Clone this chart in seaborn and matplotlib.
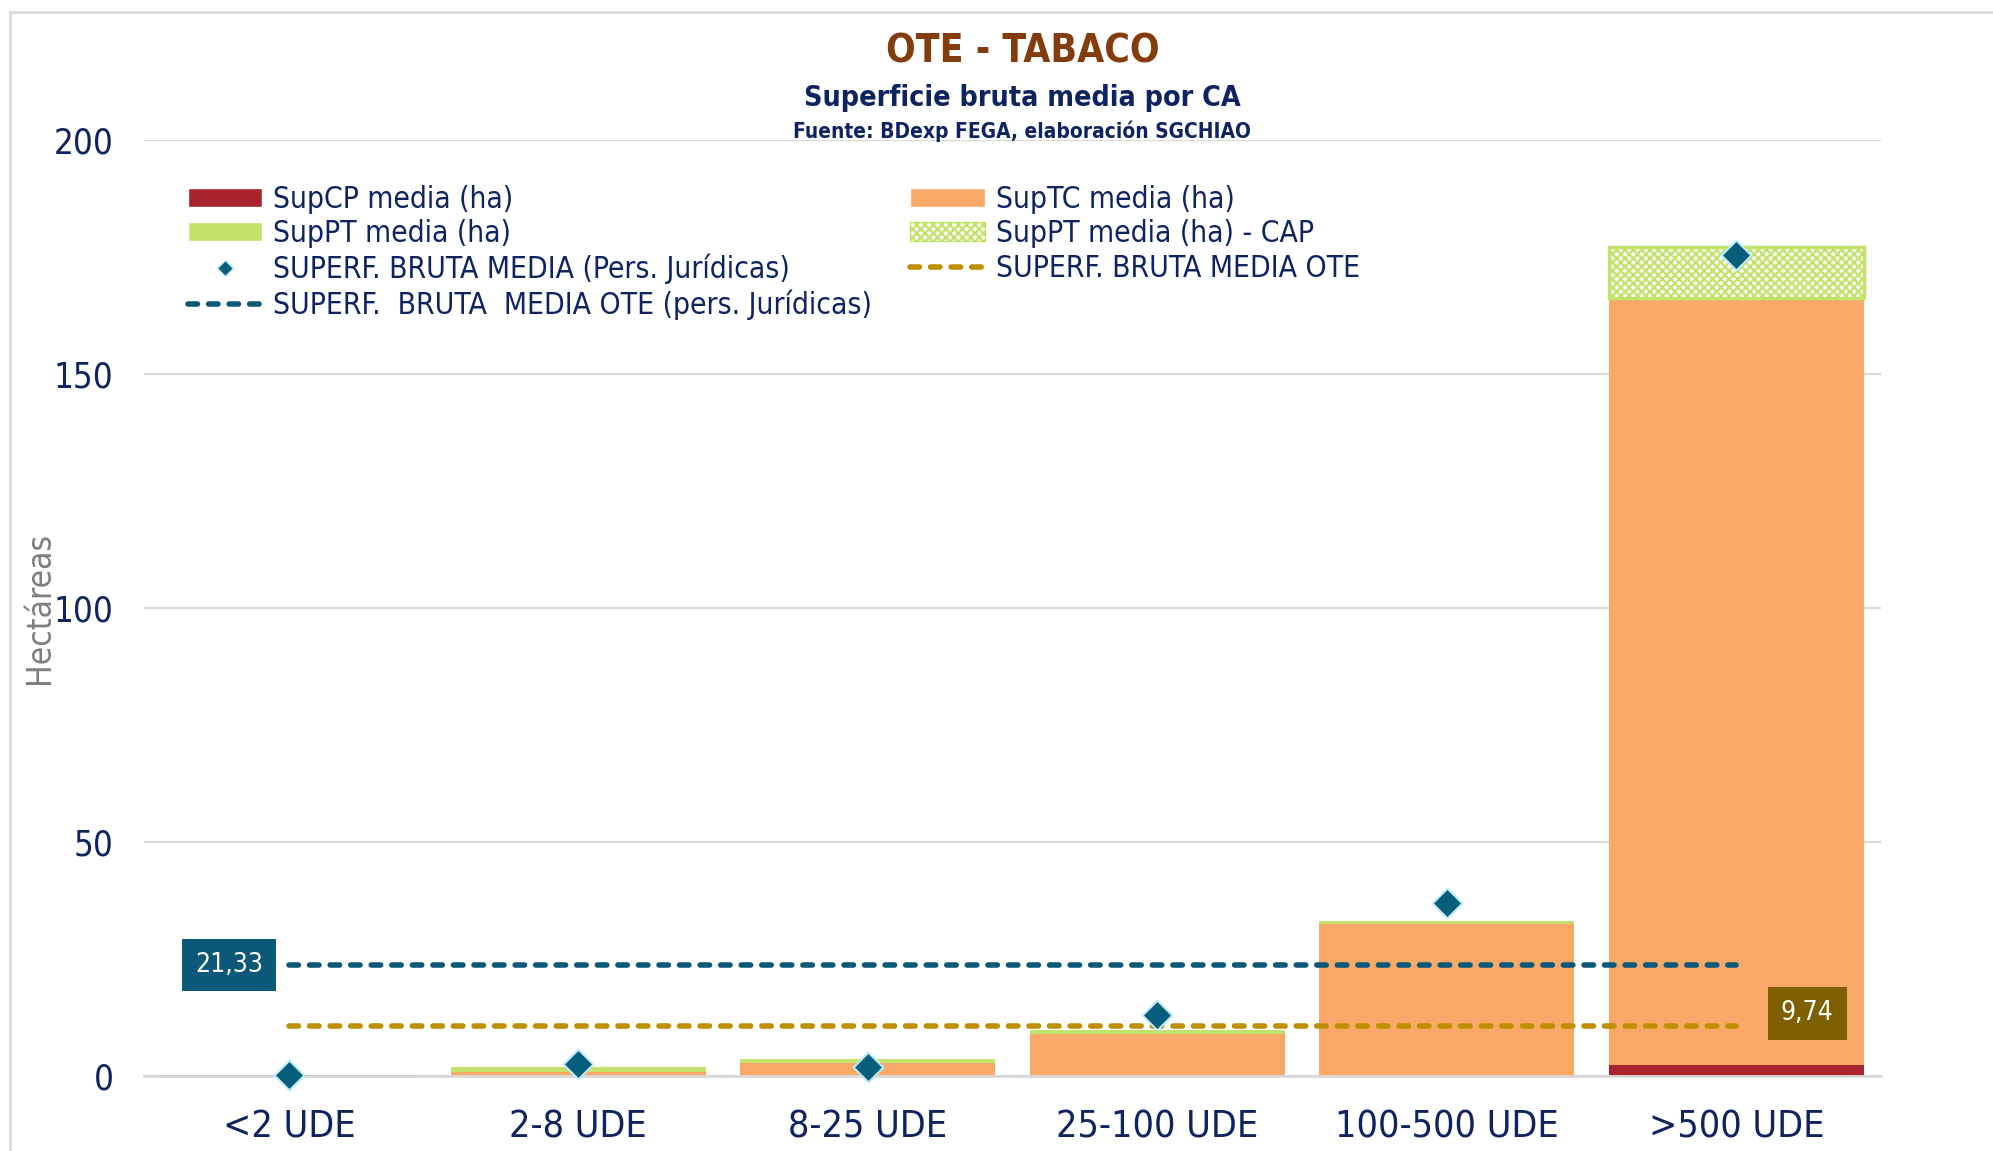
import matplotlib.pyplot as plt
import seaborn as sns
from matplotlib.patches import Patch, Rectangle
from matplotlib.lines import Line2D

# Datos (ha)
categorias = ['<2 UDE', '2-8 UDE', '8-25 UDE', '25-100 UDE', '100-500 UDE', '>500 UDE']
sup_cp = [0.15, 0.0, 0.0, 0.0, 0.0, 2.4]
sup_tc = [0.0, 0.9, 2.8, 9.05, 32.5, 163.4]
sup_pt = [0.0, 1.0, 0.8, 0.75, 0.7, 0.4]
sup_pt_cap = [0.0, 0.0, 0.0, 0.0, 0.0, 10.9]
juridicas = [0.2, 2.6, 2.0, 13.0, 37.0, 175.4]
media_ote_jur = 23.7
media_ote = 10.7
etiqueta_ote_jur = '21,33'
etiqueta_ote = '9,74'

c_cp = '#A8232B'
c_tc = '#F8A968'
c_pt = '#C3E26C'
c_dia = '#065E7C'
c_jur = '#0B5878'
c_ote = '#BF8F00'
navy = '#0E2361'
dash = (0, (1.7, 2.0))

sns.set_theme(style='white')
plt.rcParams['font.family'] = ['DejaVu Sans']
plt.rcParams['font.stretch'] = 'condensed'
plt.rcParams['hatch.linewidth'] = 1.6

fig = plt.figure(figsize=(19.93, 11.51), dpi=100)
ax = fig.add_axes([0.0723, 0.0652, 0.8715, 0.8132])

# barras apiladas: acumuladas, de la mas alta a la mas baja
cum_cp = sup_cp
cum_tc = [a + b for a, b in zip(cum_cp, sup_tc)]
cum_pt = [a + b for a, b in zip(cum_tc, sup_pt)]

for vals, col in [(cum_pt, c_pt), (cum_tc, c_tc), (cum_cp, c_cp)]:
    sns.barplot(x=categorias, y=vals, color=col, width=0.88, saturation=1,
                linewidth=0, ax=ax)

# SupPT - CAP encima del resto (trama)
n0 = len(ax.patches)
sns.barplot(x=categorias, y=sup_pt_cap, color='white', width=0.88, saturation=1, ax=ax)
for p, cap, base in zip(ax.patches[n0:], sup_pt_cap, cum_pt):
    p.set_y(base)
    p.set_facecolor('white')
    p.set_edgecolor(c_pt)
    p.set_hatch('xxxx')
    p.set_linewidth(2.5)
    p.set_visible(cap > 0)

# medias OTE
ax.hlines(media_ote_jur, 0, len(categorias) - 1, color=c_jur, lw=4,
          linestyles=dash, zorder=4)
ax.hlines(media_ote, 0, len(categorias) - 1, color=c_ote, lw=4,
          linestyles=dash, zorder=4)
for coll in ax.collections[-2:]:
    coll.set_capstyle('round')

sns.scatterplot(x=list(range(len(categorias))), y=juridicas, marker='D', s=230,
                color=c_dia, edgecolor='#BDEBFA', linewidth=1.5, zorder=5,
                clip_on=False, ax=ax)

ax.annotate(etiqueta_ote_jur, xy=(0, media_ote_jur), xytext=(-43, 0),
            textcoords='offset points', ha='center', va='center', color='white',
            fontsize=19, zorder=6,
            bbox=dict(boxstyle='square,pad=0.5', fc=c_jur, ec='none'))
ax.annotate(etiqueta_ote, xy=(len(categorias) - 1, media_ote), xytext=(51, 9),
            textcoords='offset points', ha='center', va='center', color='white',
            fontsize=19, zorder=6,
            bbox=dict(boxstyle='square,pad=0.5', fc='#7F6000', ec='none'))

ax.set_ylim(0, 200)
ax.set_xlim(-0.5, 5.5)
ax.set_yticks([0, 50, 100, 150, 200])
ax.yaxis.grid(True, color='#D9D9D9', lw=1.6)
ax.set_axisbelow(True)
for s in ['top', 'right', 'left']:
    ax.spines[s].set_visible(False)
ax.spines['bottom'].set_color('#D9D9D9')
ax.spines['bottom'].set_linewidth(2)
ax.tick_params(axis='both', length=0, labelsize=25, labelcolor=navy)
ax.tick_params(axis='x', labelsize=27, pad=24)
ax.tick_params(axis='y', pad=22)
ax.set_xlabel('')
ax.set_ylabel('Hectáreas', fontsize=24, color='#7F7F7F', labelpad=-2)

handles = [
    Patch(facecolor=c_cp, label='SupCP media (ha)'),
    Patch(facecolor=c_pt, label='SupPT media (ha)'),
    Line2D([], [], marker='D', ls='none', ms=8, color=c_dia, mec='#BDEBFA',
           label='SUPERF. BRUTA MEDIA (Pers. Jurídicas)'),
    Line2D([], [], color=c_jur, lw=4, ls=dash, dash_capstyle='round',
           label='SUPERF.  BRUTA  MEDIA OTE (pers. Jurídicas)'),
    Patch(facecolor=c_tc, label='SupTC media (ha)'),
    Patch(facecolor='white', edgecolor=c_pt, hatch='xxxx', label='SupPT media (ha) - CAP'),
    Line2D([], [], color=c_ote, lw=4, ls=dash, dash_capstyle='round',
           label='SUPERF. BRUTA MEDIA OTE'),
]
leg = ax.legend(handles=handles, ncol=2, loc='upper left', bbox_to_anchor=(0.025, 0.952),
                frameon=False, fontsize=21.5, labelcolor=navy, handlelength=2.5,
                handleheight=0.6, handletextpad=0.35, labelspacing=0.18,
                columnspacing=1.3, borderpad=0, borderaxespad=0)

fig.text(0.513, 0.955, 'OTE - TABACO', ha='center', va='center', fontsize=28,
         fontweight='bold', color='#843C0C')
fig.text(0.513, 0.915, 'Superficie bruta media por CA', ha='center', va='center',
         fontsize=20.5, fontweight='bold', color=navy)
fig.text(0.513, 0.886, 'Fuente: BDexp FEGA, elaboración SGCHIAO', ha='center',
         va='center', fontsize=15, fontweight='bold', color=navy)

fig.patches.append(Rectangle((0.005, -0.02), 1.1, 1.01, transform=fig.transFigure,
                             fill=False, ec='#D9D9D9', lw=2))

fig.savefig('out.png', dpi=100)
